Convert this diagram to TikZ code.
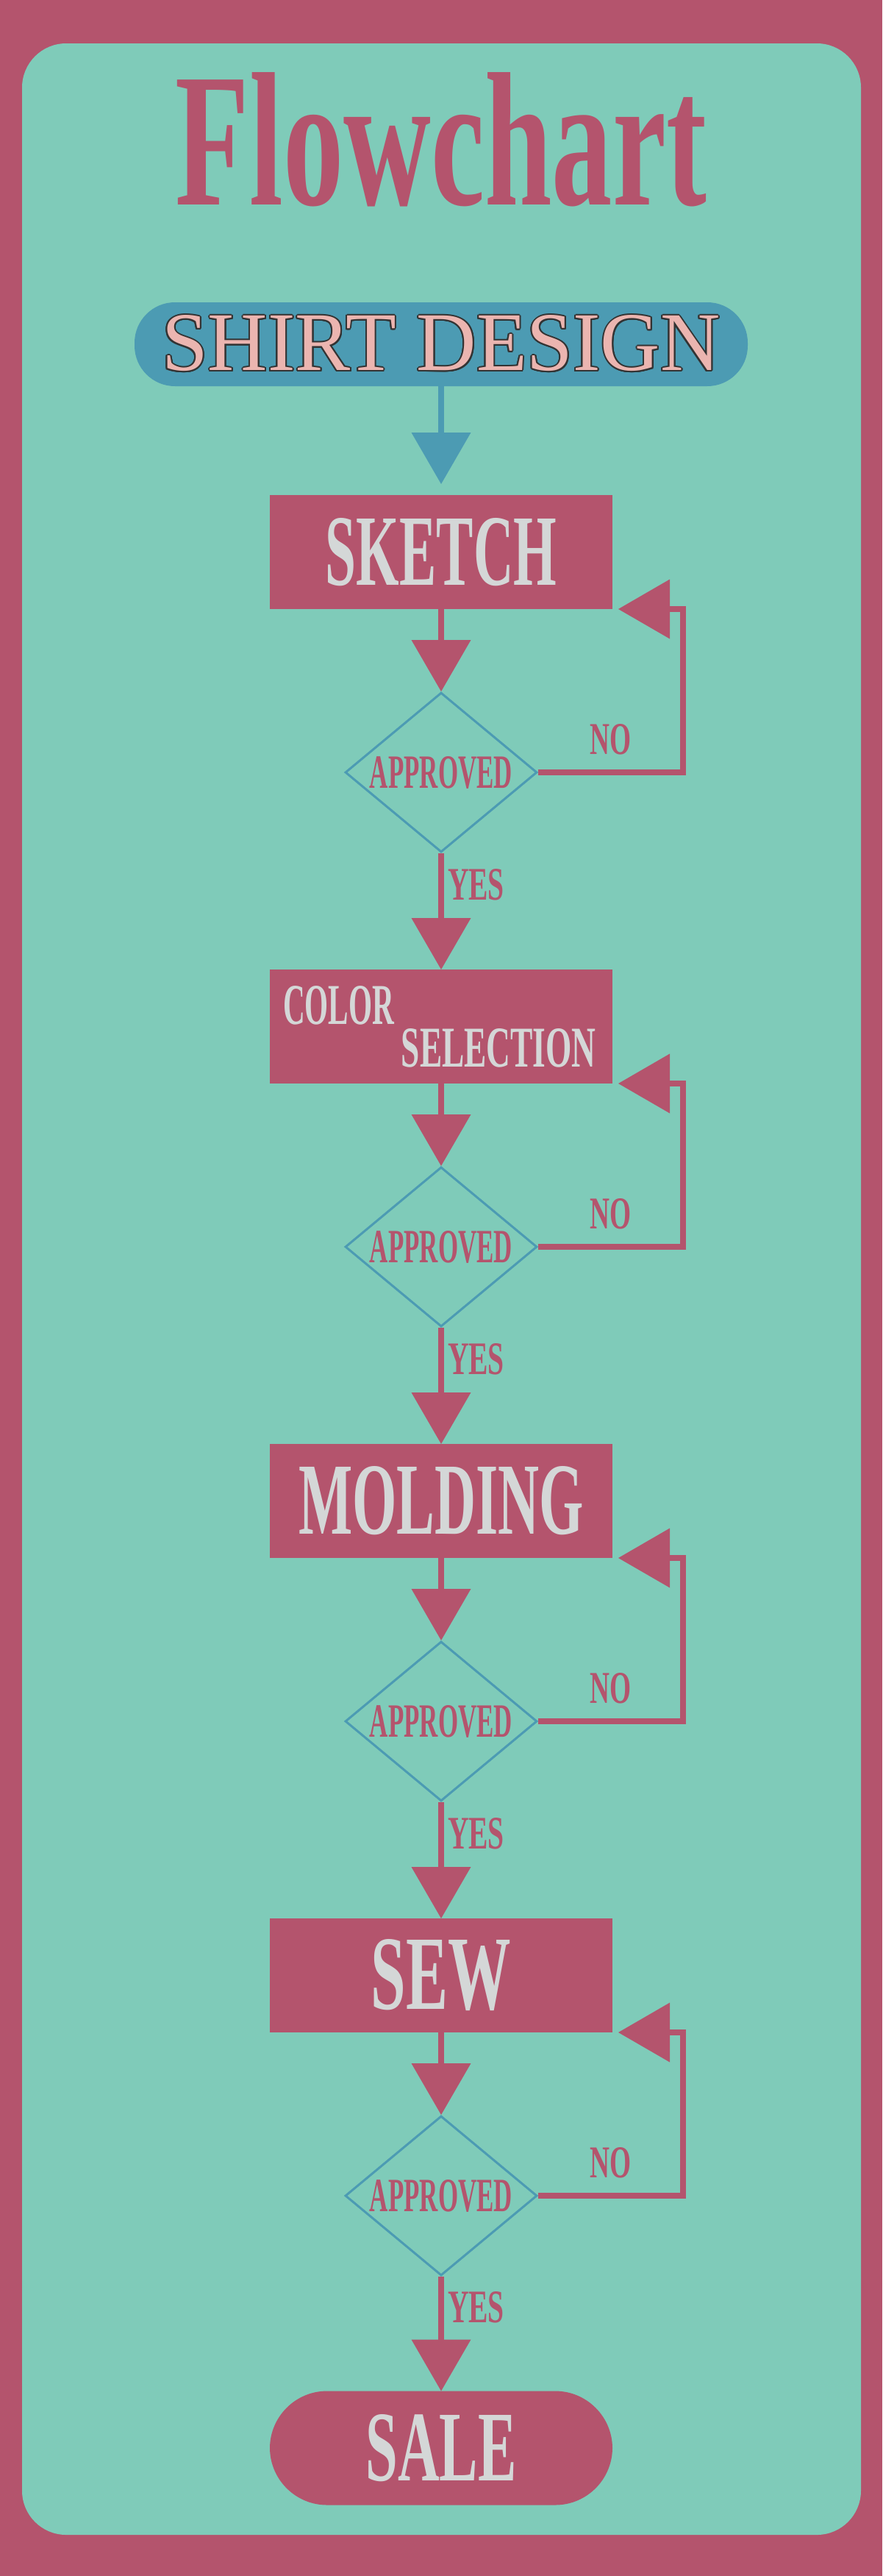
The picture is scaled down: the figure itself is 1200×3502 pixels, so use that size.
\documentclass[tikz,border=0pt]{standalone}
\usepackage{fontspec}
\setmainfont{Liberation Serif}
\usepackage{graphicx}
\usepackage{contour}
\usetikzlibrary{shapes.geometric,arrows.meta}

\definecolor{rose}{HTML}{B4546D}
\definecolor{mint}{HTML}{7FCBB9}
\definecolor{steel}{HTML}{4C9BB3}
\definecolor{ash}{HTML}{D4D7D7}
\definecolor{blush}{HTML}{EBB5B0}
\definecolor{inkline}{HTML}{333333}
\contourlength{0.18pt}

% text squeezed to the size it has in the drawing (width, height in pt)
\newcommand{\sizedtext}[3]{\resizebox{#1pt}{#2pt}{\bfseries #3}}

\tikzset{
  stepbox/.style={fill=rose, text=ash, minimum width=466pt, minimum height=155pt,
    inner sep=0pt, outer sep=0pt},
  ask/.style={diamond, draw=steel, line width=3pt, aspect=1.2, minimum width=261pt,
    minimum height=217pt, inner sep=0pt, text=rose},
  flow/.style={draw=rose, line width=8pt,
    -{Triangle[width=81pt,length=70pt,line width=0pt]}},
  tag/.style={text=rose, inner sep=0pt},
}

\begin{document}
\begin{tikzpicture}[x=1pt,y=-1pt]
   % frame
   \fill [rose] (0,0) rectangle (1200,3502);
   \fill [mint,rounded corners=60pt] (30,59) rectangle (1171,3446);

   \node [text=rose,inner sep=0pt] (title) at (600,190) {\sizedtext{722}{180}{Flowchart}};

   \node [fill=steel,rounded corners=55pt,minimum width=834pt,minimum height=114pt,inner sep=0pt]
      (shirt) at (600,468)
      {\resizebox{759pt}{75pt}{\textcolor{blush}{\contour{inkline}{SHIRT DESIGN}}}};

   \node [stepbox] (sketch) at (600,750.5) {\sizedtext{314}{91}{SKETCH}};
   \node [ask] (ask1) at (600,1050) {\sizedtext{194}{43}{APPROVED}};

   \node [stepbox] (color) at (600,1395.5) {};
   \node [text=ash,inner sep=0pt,anchor=north west] (colortop)
      at ([shift={(18,22)}]color.north west) {\sizedtext{151}{52}{COLOR}};
   \node [text=ash,inner sep=0pt,anchor=south east] (colorbot)
      at ([shift={(-22,-22)}]color.south east) {\sizedtext{265}{52}{SELECTION}};
   \node [ask] (ask2) at (600,1695) {\sizedtext{194}{43}{APPROVED}};

   \node [stepbox] (molding) at (600,2040.5) {\sizedtext{388}{92}{MOLDING}};
   \node [ask] (ask3) at (600,2340) {\sizedtext{194}{43}{APPROVED}};

   \node [stepbox] (sew) at (600,2685.5) {\sizedtext{190}{95}{SEW}};
   \node [ask] (ask4) at (600,2985) {\sizedtext{194}{43}{APPROVED}};

   \node [stepbox,rounded corners=78pt] (sale) at (600,3328) {\sizedtext{205}{90}{SALE}};

   % arrows down
   \draw [flow,draw=steel,shorten >=15pt] (shirt.south) -- (sketch.north);
   \draw [flow] (sketch.south) -- (ask1.north);
   \draw [flow] (ask1.south) -- node[tag,pos=0.27,right=5pt] {\sizedtext{77}{42}{YES}} (color.north);
   \draw [flow] (color.south) -- (ask2.north);
   \draw [flow] (ask2.south) -- node[tag,pos=0.27,right=5pt] {\sizedtext{77}{42}{YES}} (molding.north);
   \draw [flow] (molding.south) -- (ask3.north);
   \draw [flow] (ask3.south) -- node[tag,pos=0.27,right=5pt] {\sizedtext{77}{42}{YES}} (sew.north);
   \draw [flow] (sew.south) -- (ask4.north);
   \draw [flow] (ask4.south) -- node[tag,pos=0.27,right=5pt] {\sizedtext{77}{42}{YES}} (sale.north);

   % loops back
   \draw [flow] (ask1.east) -- node[tag,above=20pt] {\sizedtext{56}{41}{NO}}
      ++(196.5,0) |- ([xshift=8pt]sketch.south east);
   \draw [flow] (ask2.east) -- node[tag,above=20pt] {\sizedtext{56}{41}{NO}}
      ++(196.5,0) |- ([xshift=8pt]color.south east);
   \draw [flow] (ask3.east) -- node[tag,above=20pt] {\sizedtext{56}{41}{NO}}
      ++(196.5,0) |- ([xshift=8pt]molding.south east);
   \draw [flow] (ask4.east) -- node[tag,above=20pt] {\sizedtext{56}{41}{NO}}
      ++(196.5,0) |- ([xshift=8pt]sew.south east);
\end{tikzpicture}
\end{document}
